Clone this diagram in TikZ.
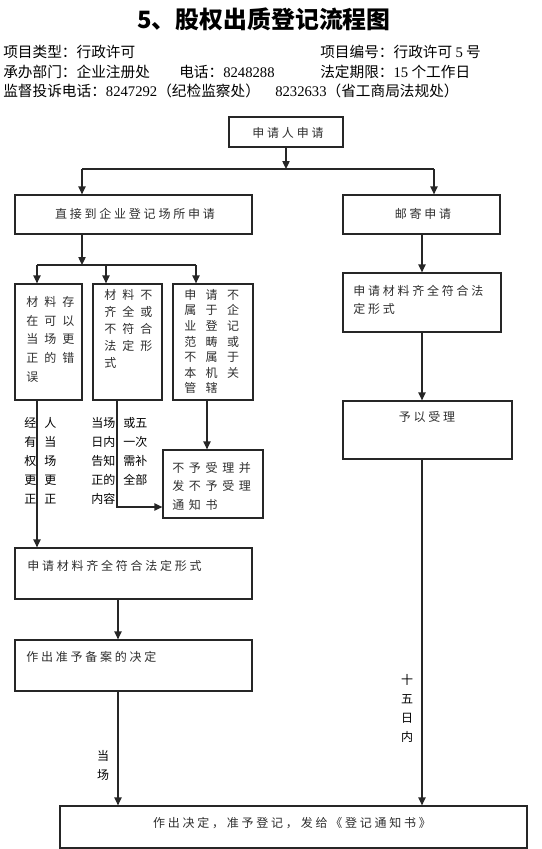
\documentclass[tikz,border=0pt]{standalone}
\usepackage{fontspec}
\setmainfont{Noto Sans CJK SC}
\newfontfamily\tms{Liberation Serif}
\usetikzlibrary{arrows.meta, positioning, calc, fit}
\tikzset{
  box/.style={draw=black!85, line width=0.95pt, inner sep=0pt},
  boxtext/.style={inner sep=0pt, text=black!82, align=left,
    font={\fontsize{9}{13.5}\selectfont\addfontfeatures{LetterSpace=23}}},
  gridtext/.style 2 args={inner sep=0pt, text=black!82, align=left, anchor=north west,
    font={\fontsize{9}{#2}\selectfont\addfontfeatures{LetterSpace=#1}}},
  note/.style={inner sep=0pt, align=left, font={\fontsize{9}{14.25}\selectfont}},
  head/.style={inner sep=0pt, anchor=base west, font={\fontsize{11}{13}\selectfont}},
  arrow/.style={-{Triangle[width=5.5pt,length=6pt]}, line width=0.95pt, draw=black!85},
  line/.style={line width=0.95pt, draw=black!85}
}
\begin{document}
\begin{tikzpicture}[x=0.75pt, y=-0.75pt]
  \useasboundingbox (0,0) rectangle (542,849);
  % Title and header lines
  \node[inner sep=0pt, anchor=base, font={\fontsize{17.9}{20}\selectfont\bfseries}] (title) at (264,28.5) {5、股权出质登记流程图};
  \node[head] (type) at (3,58) {项目类型：行政许可};
  \node[head] (code) at (320,58) {项目编号：行政许可 {\tms 5} 号};
  \node[head] (dept) at (3,78) {承办部门：企业注册处};
  \node[head] (tel) at (179,78) {电话：{\tms 8248288}};
  \node[head] (term) at (320,78) {法定期限：{\tms 15} 个工作日};
  \node[head] (sup1) at (3,97) {监督投诉电话：{\tms 8247292}（纪检监察处）};
  \node[head] (sup2) at (275,97) {{\tms 8232633}（省工商局法规处）};

  % Application and the two ways of filing
  \node[box, fit={(229,117) (343,147)}] (apply) {};
  \node[boxtext, anchor=north] (applyTxt) at (288,127) {申请人申请};
  \node[box, fit={(15,195) (252,234)}] (direct) {};
  \node[boxtext, anchor=north] (directTxt) at (135,208) {直接到企业登记场所申请};
  \node[box, fit={(343,195) (500,234)}] (mail) {};
  \node[boxtext, anchor=north] (mailTxt) at (423,208) {邮寄申请};
  \coordinate (split) at (286,169);
  \coordinate (jl) at (82,169);
  \coordinate (jr) at (434,169);
  \draw[arrow] (apply) -- (split);
  \draw[line] (jl) -- (jr);
  \draw[arrow] (jl) -- (jl |- direct.north);
  \draw[arrow] (jr) -- (jr |- mail.north);

  % Three checks on site
  \node[box, fit={(15,284) (82,400)}] (fixable) {};
  \node[box, fit={(93,284) (162,400)}] (incomplete) {};
  \node[box, fit={(173,284) (253,400)}] (outscope) {};
  \node[gridtext={50}{14}] (fixableTxt) at (26,296) {材料存\\在可以\\当场更\\正的错\\误};
  \node[gridtext={50}{12.75}] (incompleteTxt) at (104,289) {材料不\\齐全或\\不符合\\法定形\\式};
  \node[gridtext={79}{11.7}] (outscopeTxt) at (184,289) {申请不\\属于企\\业登记\\范畴或\\不属于\\本机关\\管辖};
  \coordinate (split2) at (82,265);
  \coordinate (ja) at (37,265);
  \coordinate (jb) at (106,265);
  \coordinate (jc) at (196,265);
  \draw[arrow] (direct.south -| split2) -- (split2);
  \draw[line] (ja) -- (jc);
  \foreach \c/\b in {ja/fixable, jb/incomplete, jc/outscope}
    \draw[arrow] (\c) -- (\c |- \b.north);

  % Rejection
  \node[box, fit={(163,450) (263,518)}] (reject) {};
  \node[gridtext={39}{13.9}] (rejectTxt) at (172,462) {不予受理并\\发不予受理\\通知书};
  \coordinate (cd) at (207,425);
  \draw[arrow] (cd |- outscope.south) -- (cd |- reject.north);
  \coordinate (bturn) at (117,507);
  \draw[arrow] (bturn |- incomplete.south) -- (bturn) -- (bturn -| reject.west);

  % Notes beside the lines
  \node[note, anchor=north west] (fixNote) at (24,417) {经\hspace{6pt}人\\有\hspace{6pt}当\\权\hspace{6pt}场\\更\hspace{6pt}更\\正\hspace{6pt}正};
  \node[note, anchor=north west] (incNote) at (91,417) {当场\hspace{6pt}或五\\日内\hspace{6pt}一次\\告知\hspace{6pt}需补\\正的\hspace{6pt}全部\\内容};

  % Left column
  \node[box, fit={(15,548) (252,599)}] (leftApply) {};
  \node[boxtext, anchor=north west] (leftApplyTxt) at (27,560) {申请材料齐全符合法定形式};
  \node[box, fit={(15,640) (252,691)}] (decide) {};
  \node[boxtext, anchor=north west] (decideTxt) at (26,651) {作出准予备案的决定};

  % Right column
  \node[box, fit={(343,273) (501,332)}] (rightApply) {};
  \node[boxtext, anchor=north west] (rightApplyTxt) at (353,285) {申请材料齐全符合法\\定形式};
  \node[box, fit={(343,401) (512,459)}] (accept) {};
  \node[boxtext, anchor=north] (acceptTxt) at (427,411) {予以受理};

  % Final decision
  \node[box, fit={(60,806) (527,848)}] (final) {};
  \node[boxtext, anchor=north] (finalTxt) at (292,817) {作出决定，准予登记，发给《登记通知书》};

  \draw[arrow] (ja |- fixable.south) -- (ja |- leftApply.north);
  \coordinate (lx) at (118,620);
  \draw[arrow] (lx |- leftApply.south) -- (lx |- decide.north);
  \draw[arrow] (lx |- decide.south) -- (lx |- final.north);
  \coordinate (rx) at (422,300);
  \draw[arrow] (rx |- mail.south) -- (rx |- rightApply.north);
  \draw[arrow] (rx |- rightApply.south) -- (rx |- accept.north);
  \draw[arrow] (rx |- accept.south) -- (rx |- final.north);

  \node[note, anchor=north, align=center] (daysNote) at (407,674) {十\\五\\日\\内};
  \node[note, anchor=north, align=center] (spotNote) at (103,750) {当\\场};
\end{tikzpicture}
\end{document}
